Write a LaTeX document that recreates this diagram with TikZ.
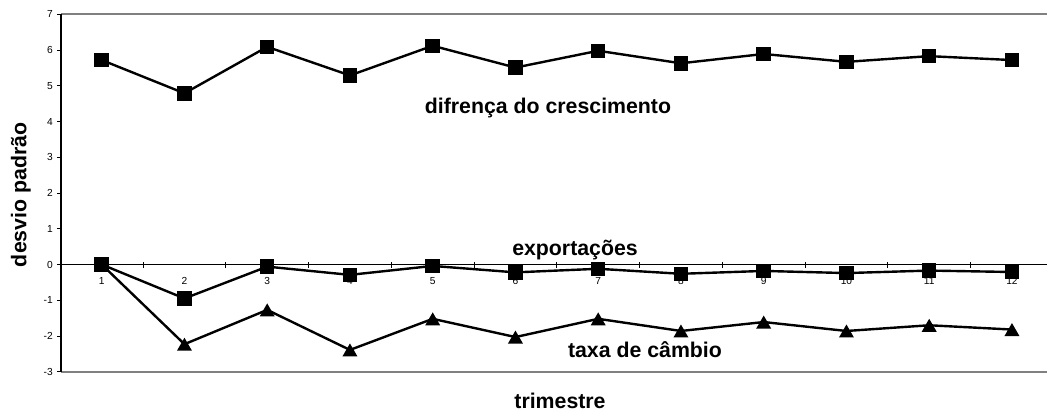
\documentclass[tikz,border=0pt]{standalone}
\usepackage{fontspec}
\setmainfont{Liberation Sans}
\usetikzlibrary{shapes.geometric}
\definecolor{framegray}{RGB}{128,128,128}
\begin{document}
\begin{tikzpicture}[x=1pt,y=-1pt,
  sq/.style={rectangle, fill=black, minimum size=14.5pt, inner sep=0pt, outer sep=0pt},
  tri/.style={regular polygon, regular polygon sides=3, fill=black, minimum size=17.3pt, inner sep=0pt, outer sep=0pt, yshift=-2.17pt},
  series/.style={line width=2.4pt, black},
  biglabel/.style={font=\fontsize{21.3}{25}\selectfont\bfseries, inner sep=0pt, anchor=base},
  ticklabel/.style={font=\fontsize{10.2}{12}\selectfont, inner sep=0pt},
  thinline/.style={line width=0.9pt, black}
]
\useasboundingbox (0,0) rectangle (1047,417);

% frame and axes
\coordinate (tl) at (61,14.3);
\coordinate (tr) at (1047,14.3);
\coordinate (bl) at (61,371.7);
\coordinate (br) at (1047,371.7);
\coordinate (o) at (61,264.5);
\coordinate (oe) at (1047,264.5);
\draw[framegray, line width=2.3pt] (tl) -- (tr);
\draw[framegray, line width=2.3pt] (bl) -- (br);
\draw[thinline] (o) -- (oe);
\draw[line width=1.6pt, black] (tl) -- (bl);

% y ticks and labels
\foreach \v [count=\i] in {-3,...,7} {
  \draw[thinline] (57,{264.5-35.74*\v}) -- (61,{264.5-35.74*\v});
  \node[ticklabel, anchor=east] (yl\i) at (53,{264.5-35.74*\v}) {\v};
}
% x ticks and labels
\foreach \j in {1,...,11} {
  \draw[thinline] ({60.3+82.75*\j},262) -- ({60.3+82.75*\j},268);
}
\foreach \k in {1,...,12} {
  \node[ticklabel, anchor=north] (xl\k) at ({18.95+82.75*\k},277.5) {\k};
}

% axis titles
\node[biglabel] (ytitle) at (26.3,194.8) [rotate=90] {desvio padrão};
\node[biglabel] (xtitle) at (560,408.3) {trimestre};

% series
\begin{scope}[shift={(18.95,264.5)}, x=82.75pt, y=35.74pt]
  \foreach \v [count=\k] in {5.72,4.79,6.09,5.29,6.12,5.51,5.98,5.63,5.89,5.67,5.83,5.72}
    \coordinate (d\k) at (\k,\v);
  \foreach \v [count=\k] in {0,-0.95,-0.06,-0.29,-0.04,-0.22,-0.12,-0.26,-0.18,-0.24,-0.17,-0.21}
    \coordinate (e\k) at (\k,\v);
  \foreach \v [count=\k] in {0,-2.23,-1.27,-2.39,-1.52,-2.03,-1.52,-1.86,-1.61,-1.86,-1.70,-1.82}
    \coordinate (t\k) at (\k,\v);
\end{scope}

\draw[series] (d1) \foreach \k in {2,...,12} { -- (d\k) };
\draw[series] (t1) \foreach \k in {2,...,12} { -- (t\k) };
\draw[series] (e1) \foreach \k in {2,...,12} { -- (e\k) };

\foreach \k in {2,...,12} \node[tri] (tm\k) at (t\k) {};
\foreach \k in {1,...,12} \node[sq] (dm\k) at (d\k) {};
\foreach \k in {1,...,12} \node[sq] (em\k) at (e\k) {};

% series labels
\node[biglabel] (ldif) at (548,113.3) {difrença do crescimento};
\node[biglabel] (lexp) at (575,255.5) {exportações};
\node[biglabel] (ltax) at (645,357.3) {taxa de câmbio};
\end{tikzpicture}
\end{document}
